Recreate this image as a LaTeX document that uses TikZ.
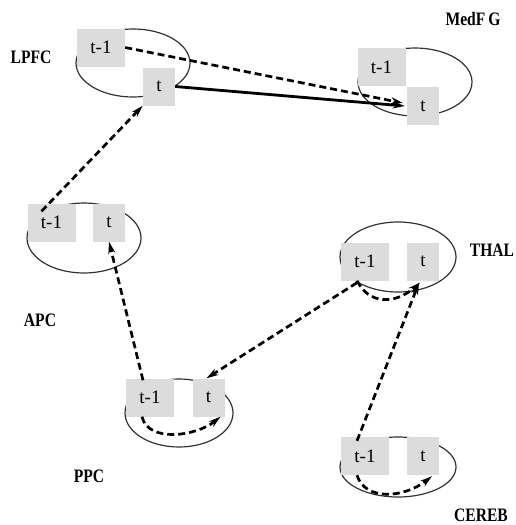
\documentclass[tikz,border=0pt]{standalone}
\usepackage{fontspec}
\setmainfont{Liberation Serif}
\newfontfamily\labfont[FakeStretch=0.82]{Liberation Serif}
\usetikzlibrary{arrows.meta}
\definecolor{boxgray}{RGB}{220,220,220}
\definecolor{loopgray}{RGB}{50,50,50}
\begin{document}
\begin{tikzpicture}[x=1pt,y=-1pt,
  cell/.style={fill=boxgray,draw=none,inner sep=0pt,minimum height=38pt,font=\fontsize{19}{19}\selectfont},
  prevcell/.style={cell,minimum width=48pt},
  curcell/.style={cell,minimum width=32pt},
  region/.style={font=\labfont\bfseries\fontsize{19}{19}\selectfont,inner sep=0pt},
  loopline/.style={draw=loopgray,line width=1.2pt},
  dasharrow/.style={line width=2.7pt,dash pattern=on 7pt off 4pt,-{Stealth[length=12pt,width=7pt]}},
  solidarrow/.style={line width=2.8pt,-{Stealth[length=12pt,width=7pt]}}
]
\useasboundingbox (0,0) rectangle (515,525);
% loops (ellipses) behind boxes
\draw[loopline] (133,63) ellipse [x radius=57, y radius=34];
\draw[loopline] (415,82) ellipse [x radius=57, y radius=34];
\draw[loopline] (84,238) ellipse [x radius=57, y radius=35];
\draw[loopline] (398,257) ellipse [x radius=58, y radius=35];
\draw[loopline] (179,413) ellipse [x radius=54, y radius=34];
\draw[loopline] (398,467) ellipse [x radius=58, y radius=30];
% cells
\node[prevcell] (lt1) at (101,47.5) {t-1};
\node[curcell]  (lt)  at (159,86.5) {t};
\node[prevcell] (mt1) at (381.5,67) {t-1};
\node[curcell]  (mt)  at (423,106) {t};
\node[prevcell] (at1) at (51.5,222.5) {t-1};
\node[curcell]  (at)  at (109,222.5) {t};
\node[prevcell] (tt1) at (365,261.5) {t-1};
\node[curcell]  (tt)  at (423,261.5) {t};
\node[prevcell] (pt1) at (150,397.5) {t-1};
\node[curcell]  (pt)  at (208.5,397.5) {t};
\node[prevcell] (ct1) at (365,456) {t-1};
\node[curcell]  (ct)  at (423,456) {t};
% region labels
\node[region] (lpfc)  at (31,57)    {LPFC};
\node[region] (medfg) at (473,18.5) {MedF\kern3ptG};
\node[region] (apc)   at (40,320)   {APC};
\node[region] (thal)  at (492,250)  {THAL};
\node[region] (ppc)   at (89,476)   {PPC};
\node[region] (cereb) at (481,515)  {CEREB};
% connections
\draw[dasharrow] (lt1.east) -- ([xshift=-4pt,yshift=3pt]mt.west);
\draw[solidarrow] (lt.east) -- ([xshift=-2pt]mt.west);
\draw[dasharrow] ([xshift=-10pt,yshift=-8pt]at1.north) -- (lt.south west);
\draw[dasharrow] ([xshift=-7pt,yshift=-2pt]pt1.north) -- (at.south);
\draw[dasharrow] ([xshift=-8pt,yshift=-2pt]tt1.south) -- ([xshift=-2pt]pt.north);
\draw[dasharrow] ([xshift=-8pt,yshift=-4pt]ct1.north) -- ([xshift=-4pt,yshift=-2pt]tt.south);
% self recurrences
\draw[dasharrow] ([xshift=-8pt]pt1.south) .. controls +(6,26) and +(-25,20) .. ([xshift=12pt]pt.south);
\draw[dasharrow] ([xshift=-8pt]tt1.south) .. controls +(12,24) and +(-25,22) .. ([xshift=-3pt,yshift=-2pt]tt.south);
\draw[dasharrow] ([xshift=-8pt]ct1.south) .. controls +(8,26) and +(-28,22) .. ([xshift=9pt,yshift=-1pt]ct.south);
\end{tikzpicture}
\end{document}
